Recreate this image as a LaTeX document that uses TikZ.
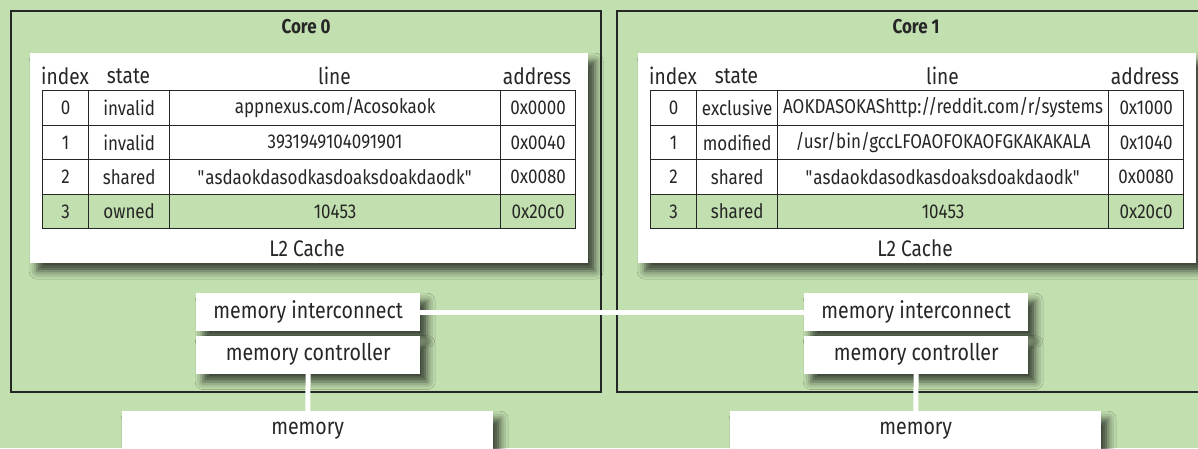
\documentclass[tikz,border=0pt]{standalone}
\usepackage{fontspec}
\setmainfont{Fira Sans}[FakeStretch=0.85]
\usetikzlibrary{positioning,shadows.blur}
\definecolor{leaf}{RGB}{194,223,176}
\definecolor{ink}{RGB}{38,38,38}

% table contents, one row per line: index/state/line/address/fill
\newcommand{\rowsA}{0/invalid/{appnexus.com/Acosokaok}/0x0000/white,
  1/invalid/3931949104091901/0x0040/white,
  2/shared/\textquotedbl asdaokdasodkasdoaksdoakdaodk\textquotedbl/0x0080/white,
  3/owned/10453/0x20c0/leaf}
\newcommand{\rowsB}{0/exclusive/{AOKDASOKAShttp://reddit.com/r/systems}/0x1000/white,
  1/modified/{/usr/bin/gccLFOAOFOKAOFGKAKAKALA}/0x1040/white,
  2/shared/\textquotedbl asdaokdasodkasdoaksdoakdaodk\textquotedbl/0x0080/white,
  3/shared/10453/0x20c0/leaf}

\begin{document}
\begin{tikzpicture}[
    x=1pt, y=-1pt,
    every node/.style={text=ink},
    core/.style={draw=ink, line width=2.2pt, anchor=north west, inner sep=0, minimum height=381pt},
    panel/.style={fill=white, anchor=north west, inner sep=0,
        blur shadow={shadow xshift=7pt, shadow yshift=-8pt, shadow blur radius=8pt, shadow opacity=70}},
    title/.style={font=\fontsize{20}{24}\selectfont\bfseries},
    head/.style={font=\fontsize{22.5}{26}\selectfont},
    cell/.style={draw=ink, line width=1.3pt, anchor=north west, inner sep=0,
        minimum height=34.5pt, font=\fontsize{20}{24}\selectfont},
    unit/.style={panel, minimum width=224pt, minimum height=38pt, font=\fontsize{23}{27}\selectfont},
    wire/.style={draw=white, line width=5pt},
]
\useasboundingbox (0,0) rectangle (1198,448);
\clip (0,0) rectangle (1198,448);
\fill[leaf] (0,0) rectangle (1198,448);

% the two cores
\node[core, minimum width=590pt] (core0) at (10,10) {};
\node[core, minimum width=598pt] (core1) at (616,10) {};
\node[title, yshift=-17pt] (name0) at (core0.north) {Core 0};
\node[title, yshift=-17pt] (name1) at (core1.north) {Core 1};

\foreach \c/\dx/\tag in {0/0/A, 1/608/B}{
  \expandafter\let\expandafter\rows\csname rows\tag\endcsname
  \begin{scope}[xshift=\dx pt]
    % L2 cache with its table
    \node[panel, minimum width=558pt, minimum height=210pt] (cache\c) at (30,53) {};
    \node[head] (hidx\c) at (65,76) {index};
    \node[head] (hst\c) at (128.5,76) {state};
    \node[head] (hln\c) at (334.5,76) {line};
    \node[head] (had\c) at (537,76) {address};
    \foreach \k/\st/\ln/\ad/\f in \rows{
      \node[cell, fill=\f, minimum width=46pt] (idx\c\k) at (42,90+34.5*\k) {\k};
      \node[cell, fill=\f, minimum width=81pt] (st\c\k) at (88,90+34.5*\k) {\st};
      \node[cell, fill=\f, minimum width=331pt] (ln\c\k) at (169,90+34.5*\k) {\ln};
      \node[cell, fill=\f, minimum width=75pt] (ad\c\k) at (500,90+34.5*\k) {\ad};
    }
    \node[head] (l2\c) at (307,248) {L2 Cache};

    % memory path
    \node[unit] (ic\c) at (196,293) {memory interconnect};
    \node[unit, below=4pt of ic\c] (mc\c) {memory controller};
    \node[unit, minimum width=371pt, minimum height=40pt] (mem\c) at (122,411) {memory};
  \end{scope}
}

\draw[wire] (ic0) -- (ic1);
\draw[wire] (mc0) -- (mem0);
\draw[wire] (mc1) -- (mem1);
\end{tikzpicture}
\end{document}
